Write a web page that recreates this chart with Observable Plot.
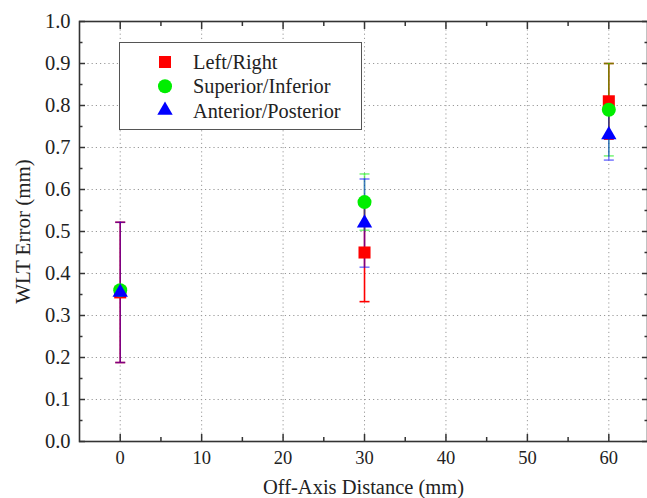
<!DOCTYPE html>
<html>
<head>
<meta charset="utf-8">
<script src="https://cdn.jsdelivr.net/npm/d3@7"></script>
<script src="https://cdn.jsdelivr.net/npm/@observablehq/plot@0.6"></script>
<style>
  html, body { margin: 0; padding: 0; background: #fff; }
  #wrap { position: relative; width: 647px; height: 498px; overflow: hidden; font-family: "Liberation Serif", "Times New Roman", serif; }
  #legend { position: absolute; left: 119px; top: 42px; width: 241px; height: 86px; border: 1.3px solid #555; background: #fff; }
  #chart g[aria-label="y-axis tick label"] { font-size: 20.5px !important; }
  #chart g[aria-label="x-axis tick label"] { font-size: 18.5px !important; }
  #chart g[aria-label="y-axis label"] { font-size: 21px !important; }
  #chart g[aria-label="x-axis label"] { font-size: 20.5px !important; }
</style>
</head>
<body>
<div id="wrap"><div id="chart"></div><div id="legend"></div></div>
<script>
// ---- data ----
const distances = [0, 30, 60];
const seriesNames = ["Left/Right", "Superior/Inferior", "Anterior/Posterior"];
const lrMean = [0.355, 0.45, 0.81];
const lrErr  = [0.167, 0.117, 0.09];
const siMean = [0.36, 0.57, 0.79];
const siErr  = [0.0, 0.067, 0.11];
const apMean = [0.355, 0.52, 0.73];
const apErr  = [0.167, 0.105, 0.06];
const seriesColors = ["#ff0000", "#00ee00", "#0000ff"];
const errColors = ["#ff0000", "#00ee00", "#0000ff"];
const errOpacity = [1, 0.5, 0.5];
const seriesSymbols = ["square", "circle", "triangle"];
const yTicks = [0, 0.1, 0.2, 0.3, 0.4, 0.5, 0.6, 0.7, 0.8, 0.9, 1.0];
const yMinor = [0.05, 0.15, 0.25, 0.35, 0.45, 0.55, 0.65, 0.75, 0.85, 0.95];
const xTicks = [0, 10, 20, 30, 40, 50, 60];
const xMinor = [5, 15, 25, 35, 45, 55];

const means = [lrMean, siMean, apMean];
const errs = [lrErr, siErr, apErr];
const rows = [];
seriesNames.forEach((s, i) => distances.forEach((d, j) => {
  rows.push({series: s, idx: i, x: d, y: means[i][j], lo: means[i][j] - errs[i][j], hi: means[i][j] + errs[i][j], e: errs[i][j]});
}));
const barRows = rows.filter(r => r.e > 0);

const cap = {draw(ctx) { ctx.moveTo(-5, 0); ctx.lineTo(5, 0); }};
const markerR = [6.8, 7, 5.7];

const marks = [
  Plot.gridY(yTicks, {stroke: "#999", strokeOpacity: 1, strokeDasharray: "1.2,3"}),
  Plot.gridX(xTicks, {stroke: "#999", strokeOpacity: 1, strokeDasharray: "1.2,3"})
];
// error bars (under markers)
[0, 1, 2].forEach(i => {
  const d = barRows.filter(r => r.idx === i);
  const o = {stroke: errColors[i], strokeWidth: 1.6, strokeOpacity: errOpacity[i]};
  marks.push(Plot.ruleX(d, {x: "x", y1: "lo", y2: "hi", ...o}));
  marks.push(Plot.dot(d, {x: "x", y: "lo", symbol: cap, r: 3, ...o}));
  marks.push(Plot.dot(d, {x: "x", y: "hi", symbol: cap, r: 3, ...o}));
});
// markers
[0, 1, 2].forEach(i => {
  marks.push(Plot.dot(rows.filter(r => r.idx === i), {x: "x", y: "y", symbol: seriesSymbols[i], fill: seriesColors[i], r: markerR[i]}));
});
marks.push(
  Plot.frame({stroke: "#333", strokeWidth: 1.6}),
  Plot.axisY(yTicks, {anchor: "left", tickSize: -6, tickPadding: 15, tickFormat: d3.format(".1f"), stroke: "#333", strokeWidth: 1.5,
    label: "WLT Error (mm)", labelAnchor: "center", labelArrow: "none", labelOffset: 64}),
  Plot.axisY(yMinor, {anchor: "left", tickSize: -3.5, text: null, label: null, stroke: "#333", strokeWidth: 1.5}),
  Plot.axisY(yTicks, {anchor: "right", tickSize: -6, text: null, label: null, stroke: "#333", strokeWidth: 1.5}),
  Plot.axisY(yMinor, {anchor: "right", tickSize: -3.5, text: null, label: null, stroke: "#333", strokeWidth: 1.5}),
  Plot.axisX(xTicks, {anchor: "bottom", tickSize: -7, tickPadding: 16, stroke: "#333", strokeWidth: 1.5,
    label: "Off-Axis Distance (mm)", labelAnchor: "center", labelArrow: "none", labelOffset: 52}),
  Plot.axisX(xMinor, {anchor: "bottom", tickSize: -4, text: null, label: null, stroke: "#333", strokeWidth: 1.5}),
  Plot.axisX(xTicks, {anchor: "top", tickSize: -7, text: null, label: null, stroke: "#333", strokeWidth: 1.5}),
  Plot.axisX(xMinor, {anchor: "top", tickSize: -4, text: null, label: null, stroke: "#333", strokeWidth: 1.5})
);

const chart = Plot.plot({
  width: 647,
  height: 498,
  marginLeft: 79,
  marginRight: 0,
  marginTop: 21,
  marginBottom: 57,
  x: {domain: [-5, 64.75]},
  y: {domain: [0, 1]},
  style: {fontFamily: "Liberation Serif, Times New Roman, serif", fontSize: "20px", color: "#222", background: "#fff", overflow: "visible"},
  marks
});
document.getElementById("chart").appendChild(chart);

// legend
const lg = d3.select("#legend").append("svg").attr("width", 241).attr("height", 86).style("display", "block");
seriesNames.forEach((name, i) => {
  const cy = 19 + i * 24.2;
  lg.append("path")
    .attr("d", d3.symbol(d3["symbol" + seriesSymbols[i][0].toUpperCase() + seriesSymbols[i].slice(1)], Math.PI * markerR[i] * markerR[i])())
    .attr("transform", `translate(45,${cy})`)
    .attr("fill", seriesColors[i]);
  lg.append("text").attr("x", 73).attr("y", cy).attr("dy", "0.35em")
    .attr("font-family", "Liberation Serif, Times New Roman, serif").attr("font-size", 20.3).attr("fill", "#222")
    .text(name);
});
</script>
</body>
</html>
